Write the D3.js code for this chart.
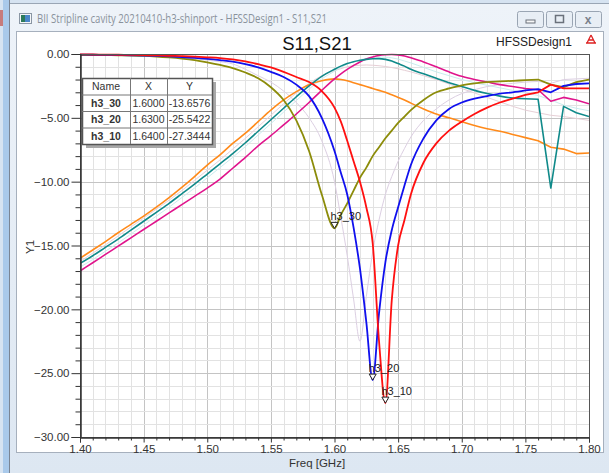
<!DOCTYPE html>
<html>
<head>
<meta charset="utf-8">
<script src="https://cdn.jsdelivr.net/npm/d3@7"></script>
<style>
  html, body { margin: 0; padding: 0; background: #d6e3f1; }
  svg { display: block; }
</style>
</head>
<body>
<svg id="chart" width="609" height="473"></svg>
<script>
// Frequency sweep points [GHz]
const freqs = [1.40,1.41,1.42,1.43,1.44,1.45,1.46,1.47,1.48,1.49,1.50,1.51,1.52,1.53,1.54,1.55,1.56,1.57,1.58,1.59,
  1.60,1.605,1.61,1.615,1.62,1.625,1.63,1.635,1.64,1.645,1.65,1.655,1.66,
  1.67,1.68,1.69,1.70,1.71,1.72,1.73,1.74,1.75,1.76,1.77,1.78,1.79,1.80];

// S11 [dB]
const s11_h3_30 = [-0.08,-0.08,-0.09,-0.1,-0.12,-0.15,-0.2,-0.27,-0.36,-0.48,-0.65,-0.85,-1.1,-1.45,-1.9,-2.6,-3.6,-5.2,-7.6,-11.0,
  -13.6576,-12.6,-11.7,-10.7,-9.7,-8.9,-8.0,-7.3,-6.6,-6.0,-5.4,-4.9,-4.4,
  -3.6,-3.0,-2.7,-2.45,-2.3,-2.2,-2.15,-2.1,-2.05,-2.0,-2.4,-2.6,-2.2,-2.0];
const s11_h3_20 = [-0.05,-0.06,-0.07,-0.08,-0.1,-0.12,-0.15,-0.19,-0.24,-0.3,-0.38,-0.48,-0.6,-0.8,-1.05,-1.4,-1.8,-2.4,-3.3,-5.0,
  -7.6,-9.3,-11.0,-13.6,-16.8,-21.0,-25.5422,-20.3,-16.3,-13.8,-12.0,-10.3,-8.7,
  -6.6,-5.2,-4.3,-3.8,-3.5,-3.3,-3.1,-3.0,-2.85,-2.75,-3.0,-2.5,-2.35,-2.3];
const s11_h3_10 = [-0.03,-0.04,-0.05,-0.06,-0.07,-0.09,-0.11,-0.14,-0.17,-0.21,-0.26,-0.32,-0.42,-0.58,-0.8,-1.05,-1.4,-1.8,-2.2,-2.9,
  -4.2,-5.3,-6.8,-8.4,-10.0,-12.0,-14.8,-22.5,-27.3444,-19.3,-15.0,-13.0,-11.0,
  -8.5,-7.0,-6.0,-5.3,-4.7,-4.2,-3.8,-3.5,-3.2,-3.0,-2.4,-2.7,-2.7,-2.7];
const s11_ref = [-0.06,-0.07,-0.08,-0.1,-0.12,-0.15,-0.19,-0.24,-0.3,-0.38,-0.48,-0.6,-0.78,-1.2,-1.7,-2.2,-2.9,-3.8,-5.0,-6.8,
  -10.0,-12.8,-15.8,-19.2,-22.5,-19.0,-15.5,-13.0,-11.0,-9.6,-8.4,-7.4,-6.5,
  -5.2,-4.3,-3.6,-3.1,-2.8,-2.55,-2.4,-2.3,-2.2,-2.15,-2.3,-2.0,-1.95,-1.9];

// S21 [dB]
const s21_h3_30 = [-16.0,-15.35,-14.7,-14.0,-13.35,-12.7,-12.0,-11.25,-10.45,-9.6,-8.7,-7.9,-7.0,-6.2,-5.3,-4.4,-3.6,-2.95,-2.4,-2.1,
  -1.95,-2.0,-2.1,-2.25,-2.4,-2.55,-2.7,-2.85,-3.0,-3.2,-3.4,-3.6,-3.85,
  -4.3,-4.7,-5.0,-5.3,-5.6,-5.85,-6.05,-6.3,-6.55,-6.8,-7.3,-7.45,-7.8,-7.75];
const s21_h3_20 = [-16.4,-15.8,-15.15,-14.5,-13.8,-13.1,-12.4,-11.7,-10.95,-10.2,-9.4,-8.6,-7.8,-6.95,-6.05,-5.15,-4.25,-3.35,-2.5,-1.75,
  -1.2,-0.95,-0.75,-0.6,-0.5,-0.42,-0.37,-0.36,-0.42,-0.55,-0.75,-0.95,-1.2,
  -1.55,-1.9,-2.25,-2.55,-2.85,-3.1,-3.3,-3.45,-3.5,-3.55,-10.5,-4.1,-4.6,-4.9];
const s21_h3_10 = [-17.0,-16.35,-15.7,-15.05,-14.4,-13.75,-13.1,-12.45,-11.8,-11.15,-10.5,-9.8,-8.95,-8.1,-7.2,-6.4,-5.55,-4.7,-3.8,-2.85,
  -1.95,-1.55,-1.2,-0.9,-0.62,-0.4,-0.24,-0.12,-0.06,-0.04,-0.07,-0.15,-0.3,
  -0.62,-1.0,-1.4,-1.75,-2.0,-2.2,-2.4,-2.55,-2.7,-2.8,-3.7,-3.4,-3.6,-3.9];
const s21_refA = [-16.25,-15.6,-14.95,-14.25,-13.55,-12.85,-12.15,-11.45,-10.7,-9.9,-9.1,-8.3,-7.45,-6.6,-5.7,-4.8,-3.9,-3.05,-2.3,-1.7,
  -1.3,-1.15,-1.0,-0.92,-0.88,-0.86,-0.88,-0.92,-0.98,-1.06,-1.16,-1.28,-1.4,
  -1.7,-2.0,-2.35,-2.7,-3.05,-3.4,-3.75,-4.1,-4.4,-4.6,-4.8,-4.9,-5.05,-5.2];
const s21_refB = [-16.7,-16.1,-15.45,-14.8,-14.1,-13.4,-12.7,-12.0,-11.25,-10.5,-9.7,-8.9,-8.1,-7.25,-6.35,-5.45,-4.55,-3.65,-2.75,-1.95,
  -1.35,-1.05,-0.8,-0.6,-0.45,-0.35,-0.28,-0.24,-0.25,-0.3,-0.4,-0.55,-0.7,
  -1.05,-1.4,-1.7,-2.0,-2.25,-2.45,-2.65,-2.85,-3.05,-3.25,-3.6,-4.0,-4.25,-4.45];

// Markers
const markerNames = ["h3_30", "h3_20", "h3_10"];
const markerX = [1.6000, 1.6300, 1.6400];
const markerY = [-13.6576, -25.5422, -27.3444];

// Axis ticks
const xMajor = [1.40,1.45,1.50,1.55,1.60,1.65,1.70,1.75,1.80];
const yMajor = [0,-5,-10,-15,-20,-25,-30];

const series = [
  { v: s21_refA, color: "#e6cfd6", w: 1 },
  { v: s21_refB, color: "#c9ecee", w: 1 },
  { v: s11_ref,  color: "#dccfe2", w: 1 },
  { v: s21_h3_30, color: "#ff8a1a", w: 1.6 },
  { v: s21_h3_10, color: "#e0148c", w: 1.6 },
  { v: s21_h3_20, color: "#108a8a", w: 1.6 },
  { v: s11_h3_30, color: "#8c8c0a", w: 1.8 },
  { v: s11_h3_20, color: "#1010ee", w: 1.8 },
  { v: s11_h3_10, color: "#ff1010", w: 1.8 }
];

const svg = d3.select("#chart");
const sans = "'Liberation Sans', Arial, sans-serif";

// ---- window frame ----
svg.append("rect").attr("x", 0).attr("y", 0).attr("width", 609).attr("height", 473).attr("fill", "#d6e3f1");
svg.append("rect").attr("x", 0).attr("y", 10).attr("width", 3).attr("height", 16).attr("fill", "#c77b7b");
svg.append("rect").attr("x", 3).attr("y", 0).attr("width", 6).attr("height", 473).attr("fill", "#a9c9ea");
svg.append("line").attr("x1", 9.5).attr("x2", 9.5).attr("y1", 0).attr("y2", 473).attr("stroke", "#7a8594");
const frameGrad = svg.append("defs").append("linearGradient").attr("id", "tb").attr("x1", 0).attr("x2", 0).attr("y1", 0).attr("y2", 1);
frameGrad.append("stop").attr("offset", 0).attr("stop-color", "#eef3f9");
frameGrad.append("stop").attr("offset", 1).attr("stop-color", "#dde7f2");
svg.append("rect").attr("x", 10).attr("y", 3).attr("width", 599).attr("height", 470).attr("fill", "url(#tb)");
svg.append("line").attr("x1", 10).attr("x2", 609).attr("y1", 3.5).attr("y2", 3.5).attr("stroke", "#9aa6b5");
// title icon
svg.append("rect").attr("x", 19.5).attr("y", 13.5).attr("width", 12).attr("height", 10).attr("fill", "#f4f6f8").attr("stroke", "#8a96a4");
svg.append("rect").attr("x", 21).attr("y", 15).attr("width", 4).attr("height", 7).attr("fill", "#2c7a5a");
svg.append("rect").attr("x", 25).attr("y", 15).attr("width", 5).attr("height", 7).attr("fill", "#4a86c8");
svg.append("text").attr("x", 37).attr("y", 23).attr("font-family", "'Open Sans', 'Noto Sans', sans-serif").attr("font-size", 12)
  .attr("fill", "#8a929c").attr("textLength", 290).attr("lengthAdjust", "spacingAndGlyphs")
  .text("BII Stripline cavity 20210410-h3-shinport - HFSSDesign1 - S11,S21");
// caption buttons
[[517, "min"], [546, "max"], [575, "close"]].forEach(([bx, kind]) => {
  svg.append("rect").attr("x", bx + 0.5).attr("y", 11.5).attr("width", 26).attr("height", 16).attr("rx", 2)
    .attr("fill", "#e8eef5").attr("stroke", "#9aa5b3");
  if (kind === "min") svg.append("rect").attr("x", bx + 9).attr("y", 20).attr("width", 9).attr("height", 3).attr("fill", "#f8f8f8").attr("stroke", "#6a717b");
  if (kind === "max") svg.append("rect").attr("x", bx + 9.5).attr("y", 15.5).attr("width", 8).attr("height", 7).attr("fill", "none").attr("stroke", "#6a717b").attr("stroke-width", 1.5);
  if (kind === "close") svg.append("text").attr("x", bx + 13).attr("y", 24).attr("text-anchor", "middle").attr("font-family", sans)
    .attr("font-size", 12).attr("font-weight", "bold").attr("fill", "#7a818b").text("x");
});
// client area
svg.append("rect").attr("x", 16.5).attr("y", 31.5).attr("width", 587).attr("height", 421).attr("fill", "#ffffff").attr("stroke", "#a6b0bd");

// ---- plot ----
const x = d3.scaleLinear().domain([1.40, 1.80]).range([80, 589]);
const y = d3.scaleLinear().domain([-30, 0]).range([437, 54]);
const xMinor = d3.range(140, 181).map(d => d / 100);
const yMinor = d3.range(-30, 1).map(d => d);

const gGrid = svg.append("g");
gGrid.selectAll(".vmin").data(xMinor).join("line")
  .attr("x1", d => Math.round(x(d)) + 0.5).attr("x2", d => Math.round(x(d)) + 0.5)
  .attr("y1", y(0)).attr("y2", y(-30))
  .attr("stroke", d => xMajor.some(m => Math.abs(m - d) < 1e-9) ? "#c4c4c4" : "#e2e2e2");
gGrid.selectAll(".hmin").data(yMinor).join("line")
  .attr("y1", d => Math.round(y(d)) + 0.5).attr("y2", d => Math.round(y(d)) + 0.5)
  .attr("x1", x(1.40)).attr("x2", x(1.80))
  .attr("stroke", d => d % 5 === 0 ? "#c4c4c4" : "#e2e2e2");

svg.append("clipPath").attr("id", "plotclip").append("rect")
  .attr("x", x(1.40)).attr("y", y(0) - 2).attr("width", x(1.80) - x(1.40)).attr("height", y(-30) - y(0) + 2);

// smooth through the dense part of the sweep, straight segments on the coarse tail
const tailStart = freqs.indexOf(1.75);
const smooth = d3.line().x(d => x(d[0])).y(d => y(d[1])).curve(d3.curveMonotoneX);
const straight = d3.line().x(d => x(d[0])).y(d => y(d[1])).curve(d3.curveLinear);
const gLines = svg.append("g").attr("clip-path", "url(#plotclip)");
series.forEach(s => {
  const pts = s.v.map((v, i) => [freqs[i], v]);
  const d = smooth(pts.slice(0, tailStart + 1)) + straight(pts.slice(tailStart)).replace(/^M/, "L");
  gLines.append("path").attr("d", d)
    .attr("fill", "none").attr("stroke", s.color).attr("stroke-width", s.w).attr("stroke-linejoin", "round");
});

// plot frame
svg.append("rect").attr("x", x(1.40) + 0.5).attr("y", y(0) + 0.5)
  .attr("width", x(1.80) - x(1.40)).attr("height", y(-30) - y(0))
  .attr("fill", "none").attr("stroke", "#555");

// axes
const fmt = d3.format(".2f");
const yAxis = svg.append("g").attr("transform", `translate(${x(1.40) + 0.5},0)`)
  .call(d3.axisLeft(y).tickValues(yMajor).tickSize(9).tickFormat(fmt));
svg.append("g").attr("transform", `translate(${x(1.40) + 0.5},0)`)
  .call(d3.axisLeft(y).tickValues(yMinor.filter(d => d % 5 !== 0)).tickSize(5).tickFormat(""));
const xAxis = svg.append("g").attr("transform", `translate(0,${y(-30) + 0.5})`)
  .call(d3.axisBottom(x).tickValues(xMajor).tickSize(5).tickFormat(fmt));
svg.append("g").attr("transform", `translate(0,${y(-30) + 0.5})`)
  .call(d3.axisBottom(x).tickValues(xMinor.filter(d => !xMajor.some(m => Math.abs(m - d) < 1e-9))).tickSize(3).tickFormat(""));
svg.selectAll(".domain").attr("stroke", "#333");
svg.selectAll(".tick line").attr("stroke", "#333");
yAxis.selectAll("text").attr("font-family", sans).attr("font-size", 11.5).attr("fill", "#333").attr("x", -11);
xAxis.selectAll("text").attr("font-family", sans).attr("font-size", 11.5).attr("fill", "#333").attr("y", 7);

// titles
svg.append("text").attr("x", 317).attr("y", 50).attr("text-anchor", "middle")
  .attr("font-family", sans).attr("font-size", 18.5).attr("fill", "#111").text("S11,S21");
svg.append("text").attr("x", 572).attr("y", 46).attr("text-anchor", "end")
  .attr("font-family", sans).attr("font-size", 12).attr("fill", "#222").text("HFSSDesign1");
// HFSS logo glyph
svg.append("path").attr("d", "M591,35 L587,43 M591,35 L595,43 M588.5,40 L593.5,40 M586,43 L596,43")
  .attr("stroke", "#d22").attr("stroke-width", 1.3).attr("fill", "none");
svg.append("text").attr("x", 317).attr("y", 467).attr("text-anchor", "middle")
  .attr("font-family", sans).attr("font-size", 11.5).attr("fill", "#333").text("Freq [GHz]");
svg.append("text").attr("transform", "translate(34,247) rotate(-90)").attr("text-anchor", "middle")
  .attr("font-family", sans).attr("font-size", 11.5).attr("fill", "#333").text("Y1");

// markers
const gMk = svg.append("g");
markerNames.forEach((n, i) => {
  const px = x(markerX[i]), py = y(markerY[i]);
  gMk.append("path").attr("d", `M${px - 3.5},${py - 6}L${px + 3.5},${py - 6}L${px},${py}Z`)
    .attr("fill", "#fff").attr("stroke", "#222").attr("stroke-width", 1);
  gMk.append("text").attr("x", px - 4).attr("y", py - 8)
    .attr("font-family", sans).attr("font-size", 11).attr("fill", "#222").text(n);
});

// marker table
const tb = { x: 82, y: 78, cols: [0, 48, 85, 130], rowH: 16.5 };
const tW = tb.cols[3], tH = tb.rowH * (markerNames.length + 1);
svg.append("rect").attr("x", tb.x + 4).attr("y", tb.y + 4).attr("width", tW).attr("height", tH).attr("fill", "#a8a8a8");
svg.append("rect").attr("x", tb.x + 0.5).attr("y", tb.y + 0.5).attr("width", tW).attr("height", tH)
  .attr("fill", "#fff").attr("stroke", "#555").attr("stroke-width", 1.5);
for (let r = 1; r <= markerNames.length; r++) {
  svg.append("line").attr("x1", tb.x).attr("x2", tb.x + tW)
    .attr("y1", tb.y + r * tb.rowH + 0.5).attr("y2", tb.y + r * tb.rowH + 0.5).attr("stroke", "#777");
}
[1, 2].forEach(c => {
  svg.append("line").attr("x1", tb.x + tb.cols[c] + 0.5).attr("x2", tb.x + tb.cols[c] + 0.5)
    .attr("y1", tb.y).attr("y2", tb.y + tH).attr("stroke", "#777");
});
const cx = c => tb.x + (tb.cols[c] + tb.cols[c + 1]) / 2;
const rowText = (r, vals, boldFirst) => {
  vals.forEach((v, c) => {
    svg.append("text").attr("x", cx(c)).attr("y", tb.y + r * tb.rowH + 12)
      .attr("text-anchor", "middle").attr("font-family", sans).attr("font-size", 10.5)
      .attr("font-weight", boldFirst && c === 0 ? "bold" : "normal").attr("fill", "#333").text(v);
  });
};
rowText(0, ["Name", "X", "Y"], false);
markerNames.forEach((n, i) => rowText(i + 1, [n, markerX[i].toFixed(4), markerY[i].toFixed(4)], true));
</script>
</body>
</html>
